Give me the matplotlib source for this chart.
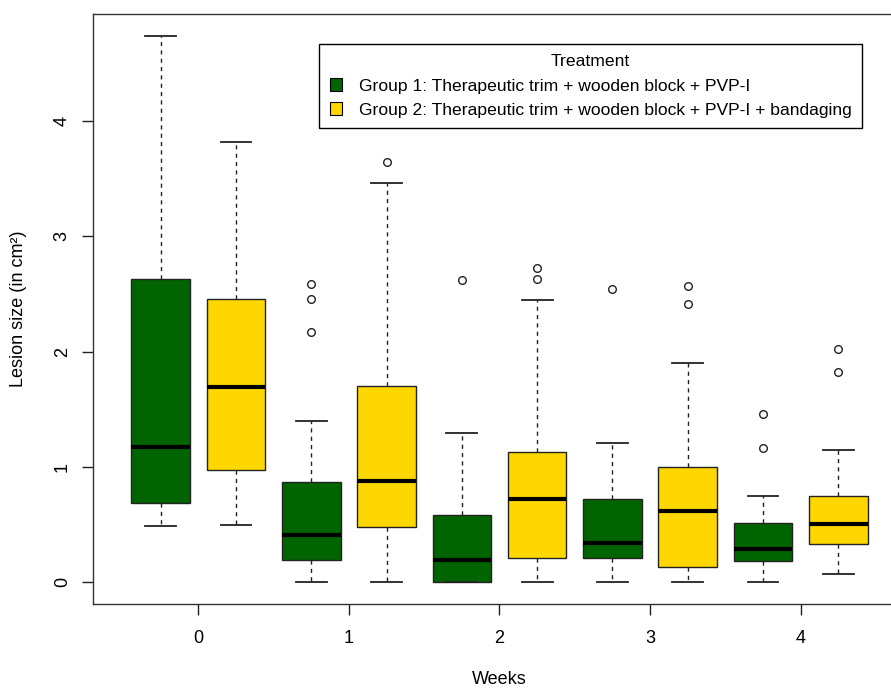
import matplotlib
matplotlib.use("Agg")
import matplotlib.pyplot as plt
from matplotlib.patches import Patch

plt.rcParams['font.family'] = ['Liberation Sans', 'DejaVu Sans']

# ===============================
# Data
# ===============================
weeks = [0, 1, 2, 3, 4]
group_labels = ["Group 1: Therapeutic trim + wooden block + PVP-I",
                "Group 2: Therapeutic trim + wooden block + PVP-I + bandaging"]
group_colors = ["#006400", "#FFD700"]

# Group 1
g1_whislo = [0.49, 0.0, 0.0, 0.0, 0.0]
g1_q1 = [0.69, 0.19, 0.0, 0.21, 0.18]
g1_med = [1.17, 0.41, 0.19, 0.34, 0.29]
g1_q3 = [2.63, 0.865, 0.58, 0.725, 0.515]
g1_whishi = [4.74, 1.40, 1.29, 1.21, 0.745]
g1_fliers = [[], [2.59, 2.46, 2.17], [2.62], [2.54], [1.46, 1.16]]

# Group 2
g2_whislo = [0.495, 0.0, 0.0, 0.0, 0.067]
g2_q1 = [0.97, 0.475, 0.21, 0.133, 0.327]
g2_med = [1.69, 0.875, 0.725, 0.62, 0.50]
g2_q3 = [2.455, 1.70, 1.125, 1.00, 0.745]
g2_whishi = [3.82, 3.46, 2.45, 1.90, 1.143]
g2_fliers = [[], [3.65], [2.73, 2.63], [2.57, 2.41], [2.02, 1.82]]


def make_stats(whislo, q1, med, q3, whishi, fliers):
    out = []
    for i in range(len(med)):
        out.append({"whislo": whislo[i], "q1": q1[i], "med": med[i],
                    "q3": q3[i], "whishi": whishi[i], "fliers": fliers[i]})
    return out


stats1 = make_stats(g1_whislo, g1_q1, g1_med, g1_q3, g1_whishi, g1_fliers)
stats2 = make_stats(g2_whislo, g2_q1, g2_med, g2_q3, g2_whishi, g2_fliers)

# ===============================
# Figure
# ===============================
fig = plt.figure(figsize=(8.91, 6.89), dpi=100)
ax = fig.add_axes([93 / 891, 85 / 689, 813 / 891, 590 / 689])

pos1 = [2 * i + 1 for i in range(len(weeks))]
pos2 = [2 * i + 2 for i in range(len(weeks))]

for stats, pos, col in ((stats1, pos1, group_colors[0]), (stats2, pos2, group_colors[1])):
    ax.bxp(stats, positions=pos, widths=0.78, patch_artist=True,
           showfliers=True, manage_ticks=False,
           boxprops=dict(facecolor=col, edgecolor="#222222", linewidth=1.0),
           medianprops=dict(color="black", linewidth=3.0, solid_capstyle="butt"),
           whiskerprops=dict(color="#222222", linewidth=1.0, linestyle=(0, (3, 3))),
           capprops=dict(color="#222222", linewidth=1.3),
           capwidths=0.41,
           flierprops=dict(marker="o", markerfacecolor="white",
                           markeredgecolor="#222222", markersize=5.5,
                           markeredgewidth=1.0))

ax.set_xlim(0.1, 10.9)
ax.set_ylim(-0.19, 4.93)

ax.set_xticks([2 * i + 1.5 for i in range(len(weeks))])
ax.set_xticklabels([str(w) for w in weeks])
ax.set_yticks([0, 1, 2, 3, 4])
ax.set_yticklabels(["0", "1", "2", "3", "4"])
for lab in ax.get_yticklabels():
    lab.set_rotation(90)
    lab.set_va("center")

ax.tick_params(axis="both", length=8, width=1.0, labelsize=13, color="#222222")
ax.tick_params(axis="x", pad=11)
ax.tick_params(axis="y", pad=8)

for s in ax.spines.values():
    s.set_linewidth(1.0)
    s.set_color("#333333")

ax.set_xlabel("Weeks", fontsize=13)
ax.set_ylabel("Lesion size (in cm²)", fontsize=13)
ax.xaxis.set_label_coords(0.5, -0.113)
ax.yaxis.set_label_coords(-0.081, 0.5)

handles = [Patch(facecolor=c, edgecolor="black", linewidth=0.8) for c in group_colors]
leg = fig.legend(handles, group_labels, title="Treatment",
                 loc="upper right", bbox_to_anchor=(862 / 891, 1 - 44 / 689),
                 bbox_transform=fig.transFigure, fontsize=12.6, title_fontsize=12.6,
                 frameon=True, fancybox=False, framealpha=1, borderaxespad=0,
                 handlelength=0.7, handleheight=0.7, handletextpad=0.95,
                 borderpad=0.6, labelspacing=0.5)
leg.get_frame().set_edgecolor("black")
leg.get_frame().set_linewidth(1.0)

fig.savefig("out.png", dpi=100)
